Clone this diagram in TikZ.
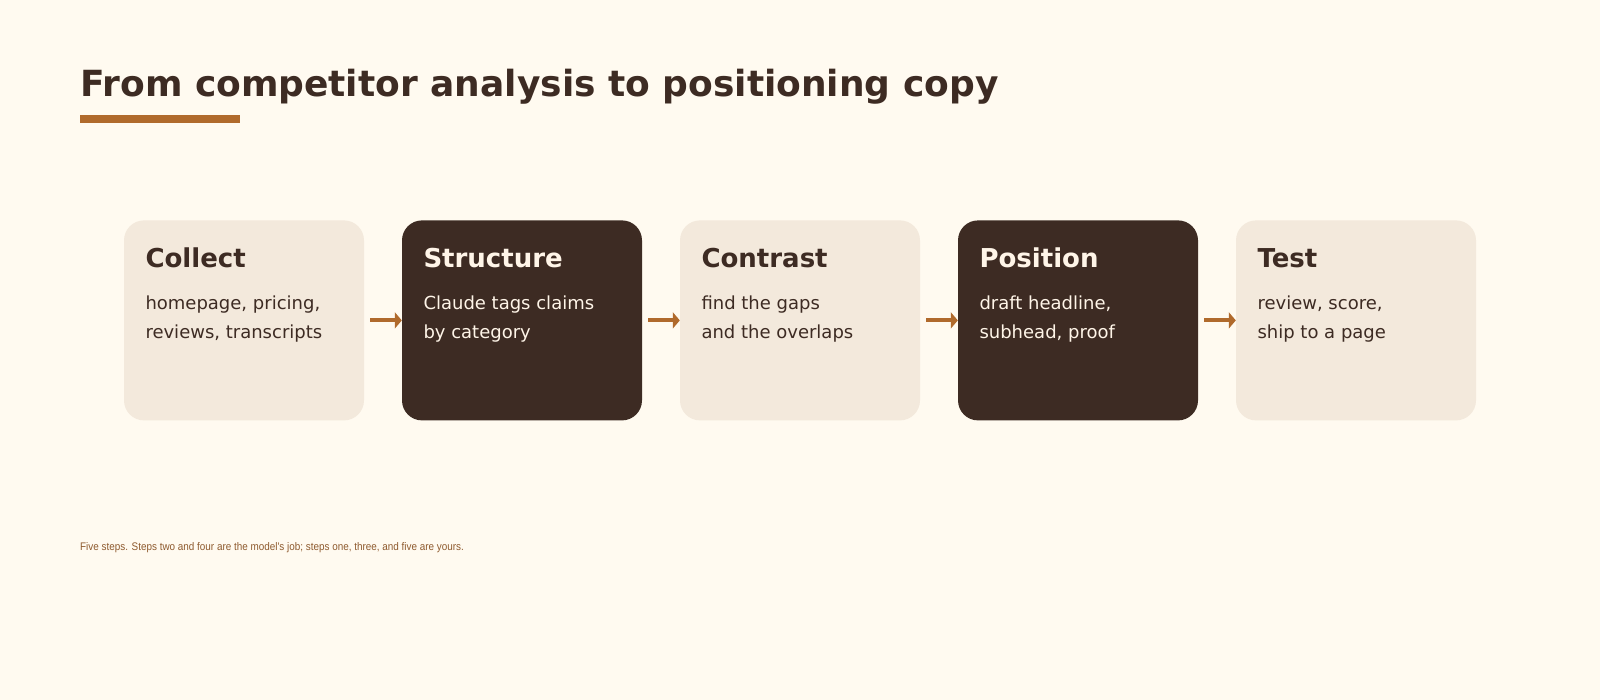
\documentclass[tikz,border=0pt]{standalone}
\usepackage{fontspec}
\setmainfont{DejaVu Sans}
\newfontfamily\notefont[FakeStretch=0.90]{Liberation Sans}
\usepackage{xcolor}
\usetikzlibrary{positioning,calc,arrows.meta}
\definecolor{paper}{HTML}{FFFAF0}
\definecolor{ink}{HTML}{3D2B23}
\definecolor{sand}{HTML}{F3E9DC}
\definecolor{rust}{HTML}{B06A2C}
\definecolor{cream}{HTML}{FFF5E8}
\definecolor{notebrown}{HTML}{8E5A2E}
\tikzset{
  card/.style={rounded corners=20pt, minimum width=240pt, minimum height=200pt, inner sep=0pt, fill=sand},
  darkcard/.style={card, fill=ink},
  head/.style={font=\fontsize{26}{30}\selectfont\bfseries, inner sep=0pt, anchor=base west, text=ink},
  body/.style={font=\fontsize{18}{28.5}\selectfont, inner sep=0pt, anchor=north west, align=left, text=ink},
  flow/.style={-{Triangle[length=7pt,width=16pt]}, rust, line width=4pt},
}

\begin{document}
\begin{tikzpicture}[x=1pt,y=-1pt]
	  \fill[paper] (0,0) rectangle (1600,700);
	  \useasboundingbox (0,0) rectangle (1600,700);
    \node[anchor=base west, inner sep=0pt, font=\fontsize{36}{40}\selectfont\bfseries, text=ink] (title) at (80,97) {From competitor analysis to positioning copy};
		\fill[rust] (80,115) rectangle (240,123.5);
    % the five steps
		\node[card] (collect) at (244,320.4) {};
		\node[darkcard, right=37.6pt of collect] (structure) {};
		\node[card, right=37.6pt of structure] (contrast) {};
		\node[darkcard, right=37.6pt of contrast] (position) {};
		\node[card, right=37.6pt of position] (test) {};
		\node[head] (collect-head) at ([shift={(21.5,47)}]collect.north west) {Collect};
		\node[body] (collect-body) at ([shift={(21.5,69.6)}]collect.north west) {\strut homepage, pricing,\\reviews, transcripts};
		\node[head, text=cream] (structure-head) at ([shift={(21.5,47)}]structure.north west) {Structure};
		\node[body, text=cream] (structure-body) at ([shift={(21.5,69.6)}]structure.north west) {\strut Claude tags claims\\by category};
		\node[head] (contrast-head) at ([shift={(21.5,47)}]contrast.north west) {Contrast};
		\node[body] (contrast-body) at ([shift={(21.5,69.6)}]contrast.north west) {\strut find the gaps\\and the overlaps};
		\node[head, text=cream] (position-head) at ([shift={(21.5,47)}]position.north west) {Position};
		\node[body, text=cream] (position-body) at ([shift={(21.5,69.6)}]position.north west) {\strut draft headline,\\subhead, proof};
		\node[head] (test-head) at ([shift={(21.5,47)}]test.north west) {Test};
		\node[body] (test-body) at ([shift={(21.5,69.6)}]test.north west) {\strut review, score,\\ship to a page};
		\draw[flow] ([xshift=6pt]collect.east) -- (structure.west);
		\draw[flow] ([xshift=6pt]structure.east) -- (contrast.west);
		\draw[flow] ([xshift=6pt]contrast.east) -- (position.west);
		\draw[flow] ([xshift=6pt]position.east) -- (test.west);
    \node[anchor=base west, inner sep=0pt, font=\notefont\fontsize{11}{13}\selectfont, text=notebrown] (note) at (80,550) {Five steps. Steps two and four are the model's job; steps one, three, and five are yours.};
\end{tikzpicture}
\end{document}
